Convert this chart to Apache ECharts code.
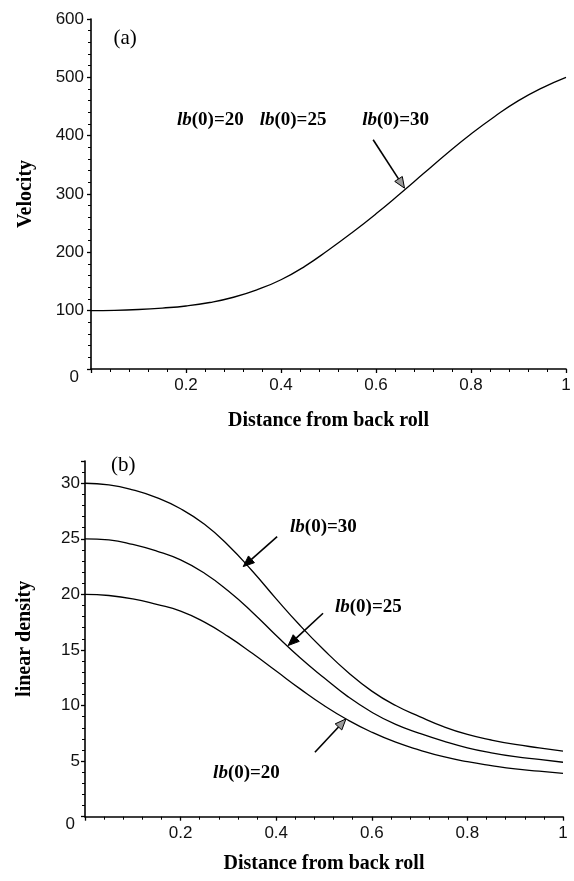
<!DOCTYPE html>
<html>
<head>
<meta charset="utf-8">
<script src="https://cdn.jsdelivr.net/npm/echarts@6/dist/echarts.min.js"></script>
<style>
  html, body { margin: 0; padding: 0; background: #fff; }
  #chart { width: 574px; height: 881px; }
</style>
</head>
<body>
<div id="chart"></div>
<script>
// Distance from back roll (normalised)
var distance = [0, 0.05, 0.1, 0.15, 0.2, 0.25, 0.3, 0.35, 0.4, 0.45, 0.5,
                0.55, 0.6, 0.65, 0.7, 0.75, 0.8, 0.85, 0.9, 0.95, 1];

// (a) velocity profile (identical for all three initial densities)
var velocity = [100, 100.5, 102, 104.5, 108, 114, 123, 136, 153, 176, 204,
                234, 266, 300, 335, 370, 403, 433, 460, 482, 500];

// (b) linear density profiles for lb(0) = 30, 25, 20
var density30 = [30, 29.85, 29.4, 28.7, 27.7, 26.3, 24.4, 22.1, 19.6, 17.2, 15.0,
                 13.0, 11.3, 10.0, 9.0, 8.1, 7.4, 6.9, 6.5, 6.2, 5.9];
var density25 = [25, 24.9, 24.5, 23.9, 23.1, 21.9, 20.3, 18.4, 16.3, 14.3, 12.5,
                 10.8, 9.4, 8.3, 7.5, 6.8, 6.2, 5.75, 5.4, 5.15, 4.9];
var density20 = [20, 19.9, 19.6, 19.1, 18.5, 17.5, 16.2, 14.7, 13.1, 11.5, 10.0,
                 8.7, 7.6, 6.7, 6.0, 5.4, 4.95, 4.6, 4.3, 4.1, 3.9];

// Initial density values named in the annotations
var annLabels = ['20', '25', '30'];

function pairs(ys) {
  return distance.map(function (x, i) { return [x, ys[i]]; });
}

var tickFont = { fontFamily: 'Liberation Sans', fontSize: 17, color: '#111' };
var titleFont = { fontFamily: 'Liberation Serif', fontSize: 20, fontWeight: 'bold', color: '#000' };
var axisLine = { show: true, onZero: false, lineStyle: { color: '#000', width: 1.6 } };

function xAxisFor(gridIndex, gap) {
  return {
    type: 'value', gridIndex: gridIndex, min: 0, max: 1, interval: 0.2,
    axisLine: axisLine,
    axisTick: { show: true, length: 4, lineStyle: { color: '#000', width: 1.3 } },
    minorTick: { show: true, splitNumber: 5, length: 3, lineStyle: { color: '#000', width: 1 } },
    splitLine: { show: false },
    axisLabel: Object.assign({ margin: 8, formatter: function (v) { return v === 0 ? '' : String(+v.toFixed(1)); } }, tickFont),
    name: 'Distance from back roll', nameLocation: 'middle', nameGap: gap,
    nameTextStyle: titleFont
  };
}

function yAxisFor(gridIndex, min, max, interval, name, gap, labelMargin) {
  return {
    type: 'value', gridIndex: gridIndex, min: min, max: max, interval: interval,
    axisLine: axisLine,
    axisTick: { show: true, length: 4, lineStyle: { color: '#000', width: 1.3 } },
    minorTick: { show: true, splitNumber: 5, length: 3, lineStyle: { color: '#000', width: 1 } },
    splitLine: { show: false },
    axisLabel: Object.assign({
      margin: labelMargin,
      formatter: function (v) {
        if (v % interval !== 0) return '';
        return v === 0 ? '{z|0}' : String(v);
      },
      rich: { z: { fontFamily: 'Liberation Sans', fontSize: 17, color: '#111', padding: [16, 5, 0, 0] } }
    }, tickFont),
    name: name, nameLocation: 'middle', nameGap: gap, nameRotate: 90,
    nameTextStyle: titleFont
  };
}

function lineSeries(xi, yi, ys) {
  return {
    type: 'line', xAxisIndex: xi, yAxisIndex: yi, data: pairs(ys),
    showSymbol: false, smooth: 0.5, silent: true,
    lineStyle: { color: '#000', width: 1.3 }
  };
}

var chart = echarts.init(document.getElementById('chart'), null, { renderer: 'canvas' });

chart.setOption({
  backgroundColor: '#fff',
  animation: false,
  grid: [
    { left: 91, right: 8, top: 19, height: 350 },
    { left: 85, right: 11, top: 461, height: 355.7 }
  ],
  xAxis: [xAxisFor(0, 42), xAxisFor(1, 37)],
  yAxis: [
    yAxisFor(0, 0, 600, 100, 'Velocity', 55, 7),
    yAxisFor(1, 0, 32, 5, 'linear density', 50, 5)
  ],
  series: [
    lineSeries(0, 0, velocity),
    lineSeries(1, 1, density30),
    lineSeries(1, 1, density25),
    lineSeries(1, 1, density20)
  ]
});

// Annotation overlay: panel tags, lb(0) labels and arrows, placed in data space
function px(grid, x, y) { return chart.convertToPixel({ gridIndex: grid }, [x, y]); }

var labelRich = {
  i: { fontFamily: 'Liberation Serif', fontSize: 19, fontWeight: 'bold', fontStyle: 'italic', fill: '#000' },
  n: { fontFamily: 'Liberation Serif', fontSize: 19, fontWeight: 'bold', fill: '#000' }
};

function lbText(grid, x, y, val) {
  var p = px(grid, x, y);
  return {
    type: 'text', x: p[0], y: p[1],
    style: { text: '{i|lb}{n|(0)=' + val + '}', rich: labelRich, align: 'left', verticalAlign: 'middle' }
  };
}

function tagText(grid, x, y, txt) {
  var p = px(grid, x, y);
  return {
    type: 'text', x: p[0], y: p[1],
    style: { text: txt, fontFamily: 'Liberation Serif', fontSize: 21, fill: '#000', align: 'center', verticalAlign: 'middle' }
  };
}

function arrow(grid, from, to, hollow) {
  var a = px(grid, from[0], from[1]);
  var b = px(grid, to[0], to[1]);
  var dx = b[0] - a[0], dy = b[1] - a[1];
  var len = Math.sqrt(dx * dx + dy * dy);
  var ux = dx / len, uy = dy / len;
  var hl = 11, hw = 4.5;
  var bx = b[0] - ux * hl, by = b[1] - uy * hl;
  return [
    { type: 'line', shape: { x1: a[0], y1: a[1], x2: bx, y2: by }, style: { stroke: '#000', lineWidth: 1.6 } },
    { type: 'polygon',
      shape: { points: [[b[0], b[1]], [bx - uy * hw, by + ux * hw], [bx + uy * hw, by - ux * hw]] },
      style: { fill: hollow ? '#9a9a9a' : '#000', stroke: '#000', lineWidth: 1 } }
  ];
}

var g = [];
g.push(tagText(0, 0.072, 566, '(a)'));
g.push(lbText(0, 0.181, 426, annLabels[0]));
g.push(lbText(0, 0.355, 426, annLabels[1]));
g.push(lbText(0, 0.571, 426, annLabels[2]));
g = g.concat(arrow(0, [0.594, 393], [0.66, 310], true));

g.push(tagText(1, 0.08, 31.6, '(b)'));
g.push(lbText(1, 0.429, 26.05, annLabels[2]));
g = g.concat(arrow(1, [0.402, 25.2], [0.331, 22.5], false));
g.push(lbText(1, 0.523, 18.85, annLabels[1]));
g = g.concat(arrow(1, [0.498, 18.3], [0.425, 15.4], false));
g.push(lbText(1, 0.268, 3.9, annLabels[0]));
g = g.concat(arrow(1, [0.481, 5.8], [0.546, 8.8], true));

chart.setOption({ graphic: { elements: g } });
</script>
</body>
</html>
